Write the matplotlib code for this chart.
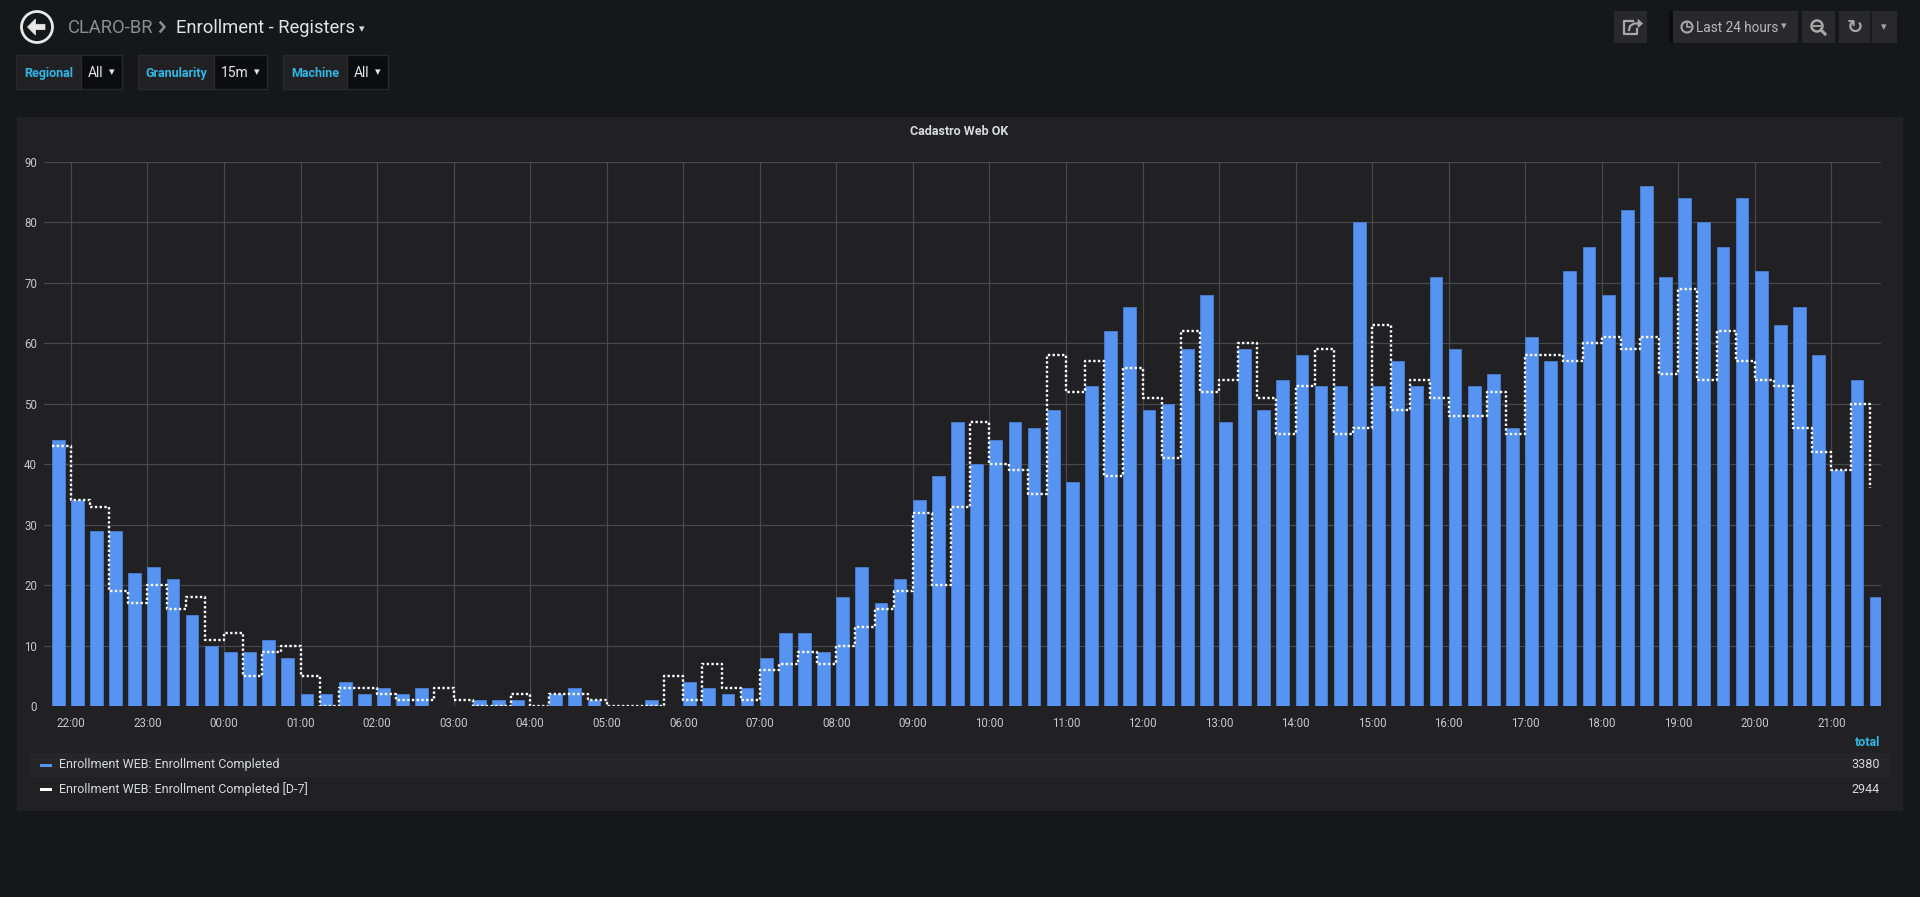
import matplotlib
matplotlib.use("Agg")
import matplotlib.pyplot as plt
import matplotlib.dates as mdates
import matplotlib.patches as mpatches
import numpy as np
import pandas as pd

plt.rcParams['font.family'] = ['Roboto', 'DejaVu Sans']

# 15 minute buckets, first one at 21:45 the day before
start_time = "2019-01-01 21:45"
n_buckets = 96

completed = [44, 34, 29, 29, 22, 23, 21, 15, 10,
             9, 9, 11, 8,
             2, 2, 4, 2,
             3, 2, 3, 0,
             0, 1, 1, 1,
             0, 2, 3, 1,
             0, 0, 1, 0,
             4, 3, 2, 3,
             8, 12, 12, 9,
             18, 23, 17, 21,
             34, 38, 47, 40,
             44, 47, 46, 49,
             37, 53, 62, 66,
             49, 50, 59, 68,
             47, 59, 49, 54,
             58, 53, 53, 80,
             53, 57, 53, 71,
             59, 53, 55, 46,
             61, 57, 72, 76,
             68, 82, 86, 71,
             84, 80, 76, 84,
             72, 63, 66, 58,
             39, 54, 18]

completed_d7 = [43, 34, 33, 19, 17, 20, 16, 18, 11,
                12, 5, 9, 10,
                5, 0, 3, 3,
                2, 1, 1, 3,
                1, 0, 0, 2,
                0, 2, 2, 1,
                0, 0, 0, 5,
                1, 7, 3, 1,
                6, 7, 9, 7,
                10, 13, 16, 19,
                32, 20, 33, 47,
                40, 39, 35, 58,
                52, 57, 38, 56,
                51, 41, 62, 52,
                54, 60, 51, 45,
                53, 59, 45, 46,
                63, 49, 54, 51,
                48, 48, 52, 45,
                58, 58, 57, 60,
                61, 59, 61, 55,
                69, 54, 62, 57,
                54, 53, 46, 42,
                39, 50, 36]

series_names = ["Enrollment WEB: Enrollment Completed",
                "Enrollment WEB: Enrollment Completed [D-7]"]

times = pd.date_range(start_time, periods=n_buckets, freq="15min")

# colours
page_bg = '#161719'
panel_bg = '#212124'
row_bg = '#262629'
btn_bg = '#29292c'
cyan = '#33b5e5'
txt = '#d8d9da'
icon = '#a8a8a8'
bar_col = '#5794f2'

W, H = 1920, 897
fig = plt.figure(figsize=(W / 100, H / 100), dpi=100, facecolor=page_bg)

# background / chrome layer in pixel coords
bg = fig.add_axes([0, 0, 1, 1], zorder=0)
bg.set_xlim(0, W)
bg.set_ylim(H, 0)
bg.axis('off')

def rect(x0, y0, x1, y1, color, ec=None, lw=0):
    bg.add_patch(mpatches.Rectangle((x0, y0), x1 - x0, y1 - y0, facecolor=color,
                                    edgecolor=ec if ec else color, linewidth=lw))

# panel
rect(17, 117, 1903, 811, panel_bg)
rect(30, 753, 1890, 777, row_bg)

# header: back button + breadcrumb
bg.add_patch(mpatches.Circle((37, 27), 15.5, facecolor='none', edgecolor='#e8e8e8', lw=2))
arrow_pts = [(27.5, 27), (35.5, 19), (35.5, 24.3), (45, 24.3), (45, 29.7), (35.5, 29.7), (35.5, 35)]
bg.add_patch(mpatches.Polygon(arrow_pts, closed=True, facecolor='#e8e8e8', edgecolor='#e8e8e8', lw=0.5))
bg.text(68, 33.3, 'CLARO-BR', color='#8e8e8e', fontsize=13.2, va='baseline', ha='left')
bg.plot([160.5, 164.5, 160.5], [22.5, 27, 31.5], color='#8e8e8e', lw=1.8)
bg.text(176, 33.3, 'Enrollment - Registers', color='#e3e3e3', fontsize=13.2, va='baseline', ha='left')
bg.text(362, 29, '▾', color='#d8d9da', fontsize=8, va='center', ha='center')

# template variables
variables = [("Regional", "All", 16, 81, 122),
             ("Granularity", "15m", 138, 214, 267),
             ("Machine", "All", 283, 347, 388)]
for label, value, x0, x1, x2 in variables:
    rect(x0, 55, x1, 89, panel_bg, ec='#2a2a2d', lw=1)
    rect(x1, 55, x2, 89, '#0b0c0e', ec='#2a2a2d', lw=1)
    bg.text((x0 + x1) / 2, 77.3, label, color=cyan, fontsize=9, fontweight='bold', va='baseline', ha='center')
    bg.text(x1 + 7, 77.3, value, color='#e8e8e8', fontsize=10, va='baseline', ha='left')
    bg.text(x2 - 10, 72, '▾', color='#e8e8e8', fontsize=8, va='center', ha='center')

# top right buttons
rect(1614, 11, 1647, 43, btn_bg)
bg.plot([1633, 1624, 1624, 1637, 1637], [21, 21, 34, 34, 29], color=icon, lw=1.6)
bg.plot([1629, 1630, 1634, 1640], [30, 26, 23.5, 23.5], color=icon, lw=1.6)
bg.add_patch(mpatches.Polygon([(1638, 19.5), (1642.5, 23.5), (1638, 27.5)], closed=True,
                              facecolor=icon, edgecolor=icon, lw=0.5))
rect(1669, 11, 1673, 43, '#0b0c0e')
rect(1673, 11, 1798, 43, btn_bg)
bg.add_patch(mpatches.Circle((1687, 27), 5.5, facecolor='none', edgecolor=icon, lw=1.5))
bg.plot([1687, 1687, 1690], [23.5, 27, 27], color=icon, lw=1.2)
bg.text(1696, 31.7, 'Last 24 hours', color='#b8b8b8', fontsize=9.8, va='baseline', ha='left')
bg.text(1784, 26, '▾', color=icon, fontsize=8, va='center', ha='center')
rect(1802, 11, 1835, 43, btn_bg)
bg.add_patch(mpatches.Circle((1817, 26), 5.5, facecolor='none', edgecolor=icon, lw=1.8))
bg.plot([1814, 1820], [26, 26], color=icon, lw=1.4)
bg.plot([1821, 1825], [30, 34], color=icon, lw=2.2)
rect(1839, 11, 1870, 43, btn_bg)
rect(1871, 11, 1897, 43, btn_bg)
bg.plot([1870.5, 1870.5], [11, 43], color='#1e1e20', lw=1)
bg.text(1855, 27, '↻', color=icon, fontsize=14, fontweight='bold', va='center', ha='center', family='DejaVu Sans')
bg.text(1884, 27, '▾', color=icon, fontsize=8, va='center', ha='center')

# panel title
bg.text(959, 135.3, 'Cadastro Web OK', color=txt, fontsize=9, fontweight='bold', va='baseline', ha='center')

# legend
rect(40, 764.5, 52, 767.5, bar_col)
rect(40, 788, 52, 791, '#ffffff')
bg.text(59, 768.3, series_names[0], color=txt, fontsize=9, va='baseline', ha='left')
bg.text(59, 792.7, series_names[1], color=txt, fontsize=9, va='baseline', ha='left')
bg.text(1880, 746, 'total', color=cyan, fontsize=9, fontweight='bold', va='baseline', ha='right')
bg.text(1880, 768.3, f'{sum(completed)}', color=txt, fontsize=9, va='baseline', ha='right')
bg.text(1880, 792.7, f'{sum(completed_d7)}', color=txt, fontsize=9, va='baseline', ha='right')

# plot area
left, right, top, bottom = 44, 1881, 162, 706
ax = fig.add_axes([left / W, 1 - bottom / H, (right - left) / W, (bottom - top) / H], zorder=1)
ax.set_facecolor('none')

bar_w = pd.Timedelta(minutes=10) / pd.Timedelta(days=1)
ax.bar(times, completed, width=bar_w, align='edge', color=bar_col, edgecolor='#4a7fd6', linewidth=0.6, zorder=2)
ax.plot(times, completed_d7, drawstyle='steps-post', color='white', linewidth=1.7,
        linestyle=(0, (1, 1)), zorder=3)

x0 = times[0] - pd.Timedelta(minutes=6.1)
ax.set_xlim(x0, x0 + pd.Timedelta(hours=24))
ax.set_ylim(0, 90)
ax.set_yticks(np.arange(0, 91, 10))
ax.xaxis.set_major_locator(mdates.HourLocator())
ax.xaxis.set_major_formatter(mdates.DateFormatter('%H:%M'))
ax.grid(True, color='#48484b', linewidth=0.9, zorder=0)
ax.set_axisbelow(True)
for s in ax.spines.values():
    s.set_visible(False)
ax.tick_params(axis='both', length=0, colors='#c8c8c8', labelsize=8.3)
ax.tick_params(axis='x', pad=8)
ax.tick_params(axis='y', pad=5)

fig.savefig('out.png', dpi=100, facecolor=page_bg)
